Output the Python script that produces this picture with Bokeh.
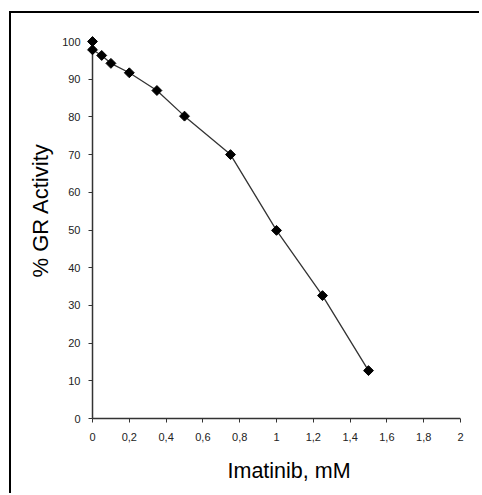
import math
from bokeh.plotting import figure
from bokeh.models import Range1d, FixedTicker, Title
from bokeh.embed import file_html
from bokeh.resources import INLINE

# data
conc_mM = [0, 0, 0.05, 0.1, 0.2, 0.35, 0.5, 0.75, 1.0, 1.25, 1.5]
gr_activity = [100, 97.8, 96.3, 94.2, 91.7, 87.0, 80.2, 70.0, 49.9, 32.6, 12.7]
x_ticks = [0, 0.2, 0.4, 0.6, 0.8, 1.0, 1.2, 1.4, 1.6, 1.8, 2.0]
x_tick_labels = ["0", "0,2", "0,4", "0,6", "0,8", "1", "1,2", "1,4", "1,6", "1,8", "2"]
y_ticks = [0, 10, 20, 30, 40, 50, 60, 70, 80, 90, 100]
x_title = "Imatinib, mM"
y_title = "% GR Activity"

FONT = "Liberation Sans"
AXIS_COLOR = "#333333"

x0, x1 = x_ticks[0], x_ticks[-1]
y0, y1 = y_ticks[0], y_ticks[-1]
# small margin so the axis lines sit just inside the plot frame (ticks fill the gap)
xpad = (x1 - x0) * 0.0109
ypad = (y1 - y0) * 0.0106

p = figure(width=470, height=482, output_backend="svg", toolbar_location=None,
           x_range=Range1d(x0 - xpad, x1), y_range=Range1d(y0 - ypad, y1),
           min_border_left=77, min_border_right=21, min_border_top=28, min_border_bottom=73)
p.styles = {"border-top": "2px solid black", "border-left": "2px solid black",
            "margin-top": "11px", "margin-left": "9px"}
p.outline_line_color = None
p.grid.visible = False
p.background_fill_color = None
p.border_fill_color = None

for ax in (p.xaxis, p.yaxis):
    ax.axis_line_color = None
    ax.major_tick_line_color = AXIS_COLOR
    ax.minor_tick_line_color = None
    ax.major_tick_in = 4
    ax.major_tick_out = 0
    ax.major_label_text_font = FONT
    ax.major_label_text_font_size = "11px"
    ax.major_label_text_color = "#222222"

p.xaxis.ticker = FixedTicker(ticks=x_ticks)
p.xaxis.major_label_overrides = {t: l for t, l in zip(x_ticks, x_tick_labels)}
p.xaxis.major_label_standoff = 10
p.yaxis.ticker = FixedTicker(ticks=y_ticks)
p.yaxis.major_label_standoff = 8

# axis lines along the tick extents
p.segment(x0=[x0, x0], y0=[y0, y0], x1=[x1, x0], y1=[y0, y1],
          line_color=AXIS_COLOR, line_width=1.5)

# axis titles
p.add_layout(Title(text=x_title, align="left", offset=139, standoff=26,
                   text_font=FONT, text_font_size="21.5px", text_font_style="normal",
                   text_color="black"), "below")
p.add_layout(Title(text=y_title, align="left", offset=145, standoff=14,
                   text_font=FONT, text_font_size="22px", text_font_style="normal",
                   text_color="black"), "left")

p.line(conc_mM, gr_activity, line_color="#333333", line_width=1.3, level="overlay")
p.scatter(conc_mM, gr_activity, marker="square", angle=math.pi / 4, size=7,
          fill_color="black", line_color="black", level="overlay")

open("out.html", "w").write(file_html(p, INLINE))
